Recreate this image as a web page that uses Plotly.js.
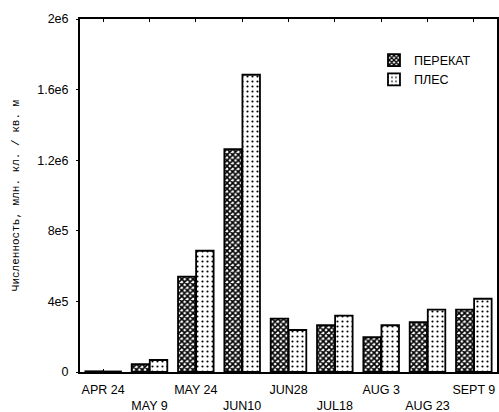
<!DOCTYPE html>
<html>
<head>
<meta charset="utf-8">
<script src="https://cdn.plot.ly/plotly-3.0.1.min.js"></script>
<style>html,body{margin:0;padding:0;background:#fff;}#chart{width:499px;height:412px;}</style>
</head>
<body>
<div id="chart"></div>
<script>
const categories = ["APR 24", "MAY 9", "MAY 24", "JUN10", "JUN28", "JUL18", "AUG 3", "AUG 23", "SEPT 9"];
const tickLabels = ["APR 24", "&nbsp;<br>MAY 9", "MAY 24", "&nbsp;<br>JUN10", "JUN28", "&nbsp;<br>JUL18", "AUG 3", "&nbsp;<br>AUG 23", "SEPT 9"];
const perekat = [4000, 45000, 540000, 1263000, 302000, 265000, 197000, 283000, 353000];
const ples = [3000, 68000, 687000, 1684000, 238000, 319000, 265000, 353000, 415000];
const yTickVals = [0, 400000, 800000, 1200000, 1600000, 2000000];
const yTickText = ["0", "4e5", "8e5", "1.2e6", "1.6e6", "2e6"];

const idx = categories.map((c, i) => i);

const traces = [
  {
    type: "bar", name: "ПЕРЕКАТ", x: idx, y: perekat,
    marker: {
      color: "#ffffff",
      line: {color: "#000", width: 1.8},
      pattern: {shape: "x", size: 4, solidity: 0.65, fgcolor: "#000", bgcolor: "#fff"}
    }
  },
  {
    type: "bar", name: "ПЛЕС", x: idx, y: ples,
    marker: {
      color: "#ffffff",
      line: {color: "#000", width: 1.8},
      pattern: {shape: ".", size: 5, solidity: 0.15, fgcolor: "#000", bgcolor: "#fff"}
    }
  }
];

const layout = {
  width: 499, height: 412,
  margin: {l: 80, r: 2, t: 19, b: 40},
  paper_bgcolor: "#fff", plot_bgcolor: "#fff",
  barmode: "group", bargap: 0.22, bargroupgap: 0.03,
  showlegend: true,
  legend: {
    x: 0.705, y: 0.925, xanchor: "left", yanchor: "top",
    bgcolor: "rgba(0,0,0,0)", font: {family: "Liberation Sans, Arial, sans-serif", size: 12.5, color: "#000"},
    itemwidth: 30, tracegroupgap: 6
  },
  font: {family: "Liberation Sans, Arial, sans-serif", size: 12, color: "#000"},
  xaxis: {
    range: [-0.5, 8.5], tickmode: "array", tickvals: idx, ticktext: tickLabels,
    showline: true, linecolor: "#000", linewidth: 2, mirror: "ticks",
    ticks: "inside", ticklen: 3, tickcolor: "#000", tickson: "boundaries",
    ticklabelstandoff: 5,
    showgrid: false, zeroline: false, tickangle: 0,
    tickfont: {family: "Liberation Sans, Arial, sans-serif", size: 12.5, color: "#000"}
  },
  yaxis: {
    range: [0, 2000000], tickmode: "array", tickvals: yTickVals, ticktext: yTickText,
    showline: true, linecolor: "#000", linewidth: 2, mirror: "ticks",
    ticks: "outside", ticklen: 2, tickcolor: "#000",
    ticklabelstandoff: 5,
    showgrid: false, zeroline: false,
    tickfont: {family: "Liberation Sans, Arial, sans-serif", size: 12.5, color: "#000"},
    title: {text: "Численность, млн. кл. / кв. м", standoff: 15,
      font: {family: "Liberation Mono, DejaVu Sans Mono, monospace", size: 11, color: "#000"}}
  }
};

Plotly.newPlot("chart", traces, layout, {staticPlot: true, displayModeBar: false});
</script>
</body>
</html>
